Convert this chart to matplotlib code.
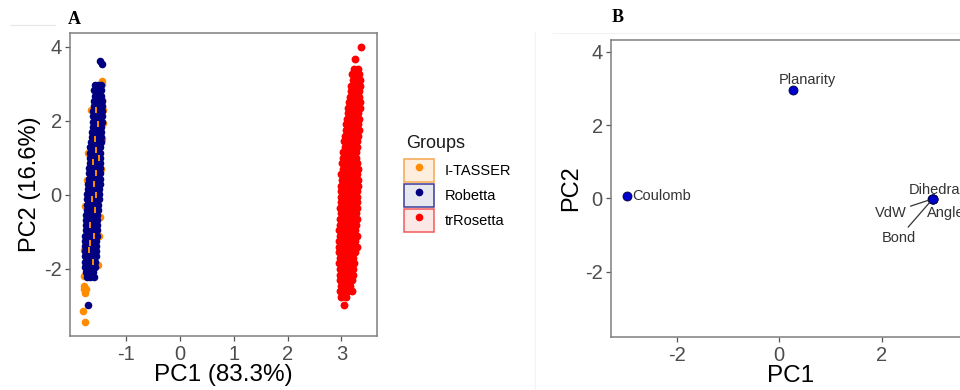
import matplotlib
matplotlib.use('Agg')
import matplotlib.pyplot as plt
from matplotlib.patches import Patch
from matplotlib.lines import Line2D
from matplotlib.legend_handler import HandlerTuple

plt.rcParams['font.family'] = ['Liberation Sans', 'DejaVu Sans']
plt.rcParams['axes.unicode_minus'] = False

# ---- panel A: PCA scores, one row = (PC2, [PC1 values])
itasser_rows = [
    (3.08, [-1.45]), (2.98, [-1.44]), (2.56, [-1.44]), (2.30, [-1.43, -1.65]),
    (1.95, [-1.43]), (1.50, [-1.45]), (1.13, [-1.71]), (0.70, [-1.46]),
    (0.40, [-1.73]), (-0.30, [-1.76]), (-0.60, [-1.49]), (-1.10, [-1.50]),
    (-1.50, [-1.78]), (-1.90, [-1.52]), (-2.20, [-1.78]), (-2.45, [-1.78]),
    (-2.55, [-1.78, -1.75]), (-2.66, [-1.77]), (-3.13, [-1.80]), (-3.42, [-1.76]),
]
# I-TASSER points that show through the Robetta cloud
itasser_mid_pc1 = [-1.55, -1.52, -1.58, -1.55, -1.62, -1.56, -1.60, -1.64,
                   -1.58, -1.66, -1.60, -1.68, -1.62, -1.55, -1.51, -1.66]
itasser_mid_pc2 = [2.30, 1.90, 1.50, 1.20, 0.90, 0.60, 0.30, -0.10,
                   -0.40, -0.80, -1.10, -1.50, -1.80, 0.00, 1.00, -1.30]

robetta_rows = [
    (3.62, [-1.49]), (3.53, [-1.45]),
    (2.96, [-1.58, -1.52, -1.47]), (2.82, [-1.59, -1.53, -1.46]),
    (2.68, [-1.58, -1.52, -1.46]), (2.54, [-1.60, -1.54, -1.48, -1.44]),
    (2.40, [-1.60, -1.54, -1.48, -1.44]), (2.26, [-1.61, -1.55, -1.49, -1.45]),
    (2.12, [-1.61, -1.55, -1.49, -1.44]), (1.98, [-1.61, -1.55, -1.50, -1.45]),
    (1.84, [-1.62, -1.56, -1.50, -1.46]), (1.70, [-1.63, -1.57, -1.51, -1.46]),
    (1.56, [-1.64, -1.58, -1.52, -1.47]), (1.42, [-1.65, -1.59, -1.53, -1.47]),
    (1.28, [-1.66, -1.60, -1.54, -1.48]), (1.14, [-1.66, -1.60, -1.54, -1.48]),
    (1.00, [-1.67, -1.61, -1.55, -1.48]), (0.86, [-1.67, -1.61, -1.55, -1.49]),
    (0.72, [-1.68, -1.62, -1.56, -1.49]), (0.58, [-1.69, -1.63, -1.56, -1.49]),
    (0.44, [-1.69, -1.63, -1.56, -1.49]), (0.30, [-1.70, -1.64, -1.57, -1.49]),
    (0.16, [-1.71, -1.65, -1.58, -1.50]), (0.02, [-1.72, -1.65, -1.58, -1.51]),
    (-0.12, [-1.73, -1.66, -1.59, -1.51]), (-0.26, [-1.73, -1.66, -1.59, -1.52]),
    (-0.40, [-1.73, -1.67, -1.60, -1.52]), (-0.54, [-1.74, -1.67, -1.60, -1.53]),
    (-0.68, [-1.74, -1.67, -1.61, -1.53]), (-0.82, [-1.75, -1.68, -1.61, -1.54]),
    (-0.96, [-1.75, -1.68, -1.61, -1.54]), (-1.10, [-1.76, -1.69, -1.62, -1.54]),
    (-1.24, [-1.76, -1.69, -1.62, -1.55]), (-1.38, [-1.76, -1.69, -1.62, -1.55]),
    (-1.52, [-1.76, -1.70, -1.63, -1.56]), (-1.66, [-1.76, -1.70, -1.63, -1.56]),
    (-1.80, [-1.76, -1.70, -1.63, -1.57]), (-1.94, [-1.76, -1.70, -1.63, -1.57]),
    (-2.08, [-1.75, -1.68, -1.61]), (-2.22, [-1.73, -1.66, -1.60]),
    (-2.97, [-1.70]),
]

trrosetta_rows = [
    (4.00, [3.36]), (3.66, [3.26]), (3.40, [3.24, 3.30]),
    (3.25, [3.20, 3.28, 3.33]), (3.10, [3.21, 3.29, 3.35]),
    (2.95, [3.18, 3.27, 3.34]), (2.80, [3.17, 3.25, 3.33]),
    (2.65, [3.15, 3.24, 3.33]), (2.50, [3.14, 3.23, 3.30, 3.35]),
    (2.35, [3.12, 3.21, 3.28, 3.34]), (2.20, [3.13, 3.22, 3.30]),
    (2.05, [3.10, 3.19, 3.26, 3.33]), (1.90, [3.09, 3.18, 3.25, 3.31]),
    (1.75, [3.08, 3.17, 3.24, 3.32]), (1.60, [3.07, 3.16, 3.23, 3.30]),
    (1.45, [3.05, 3.14, 3.21, 3.29]), (1.30, [3.06, 3.15, 3.22, 3.29]),
    (1.15, [3.03, 3.12, 3.20, 3.27]), (1.00, [3.03, 3.11, 3.19, 3.27]),
    (0.85, [3.01, 3.09, 3.17, 3.25, 3.29]), (0.70, [3.02, 3.10, 3.18, 3.26, 3.30]),
    (0.55, [3.00, 3.08, 3.16, 3.24, 3.29]), (0.40, [3.01, 3.09, 3.17, 3.25, 3.30]),
    (0.25, [3.00, 3.08, 3.16, 3.24, 3.30]), (0.10, [3.00, 3.08, 3.16, 3.24, 3.28]),
    (-0.05, [2.99, 3.07, 3.15, 3.23, 3.29]), (-0.20, [3.00, 3.08, 3.16, 3.24, 3.28]),
    (-0.35, [2.98, 3.06, 3.14, 3.22, 3.28]), (-0.50, [2.99, 3.07, 3.15, 3.23, 3.27]),
    (-0.65, [2.97, 3.05, 3.13, 3.21, 3.28]), (-0.80, [2.98, 3.06, 3.14, 3.22, 3.27]),
    (-0.95, [2.96, 3.04, 3.12, 3.20, 3.26]), (-1.10, [2.97, 3.05, 3.13, 3.21, 3.28]),
    (-1.25, [2.95, 3.03, 3.11, 3.19, 3.25]), (-1.40, [2.96, 3.04, 3.12, 3.20, 3.28]),
    (-1.55, [2.95, 3.03, 3.11, 3.19, 3.26]), (-1.70, [2.97, 3.05, 3.13, 3.21]),
    (-1.85, [2.96, 3.04, 3.12, 3.20, 3.24]), (-2.00, [2.98, 3.06, 3.14, 3.21]),
    (-2.15, [2.97, 3.05, 3.13, 3.22]), (-2.30, [2.98, 3.06, 3.14, 3.20]),
    (-2.45, [2.99, 3.07, 3.15]), (-2.60, [2.97, 3.05, 3.12, 3.19]),
    (-2.75, [3.00, 3.08]), (-2.97, [3.05]),
]

groups = ['I-TASSER', 'Robetta', 'trRosetta']
group_colors = ['#FF8C00', '#000080', '#FF0000']
key_fill = ['#FDEEDD', '#E7E7F0', '#FDE8E8']
key_edge = ['#F7A550', '#3C3C99', '#F25A5A']

# ---- panel B: variable loadings
var_names = ['Coulomb', 'Planarity', 'Dihedral', 'VdW', 'Angle', 'Bond']
var_pc1 = [-2.96, 0.26, 2.99, 2.98, 3.00, 2.99]
var_pc2 = [0.07, 2.97, -0.01, -0.02, -0.01, -0.02]


def unpack(rows):
    xs, ys = [], []
    for y, row in rows:
        for x in row:
            xs.append(x)
            ys.append(y)
    return xs, ys


tick_col = '#4D4D4D'
spine_col = '#7F7F7F'

fig = plt.figure(figsize=(9.6, 3.9), dpi=100)


def style(ax):
    for s in ax.spines.values():
        s.set_color(spine_col)
        s.set_linewidth(1.1)
    ax.tick_params(colors='#555555', labelcolor=tick_col, labelsize=14.5,
                   length=3.5, width=0.9, pad=2.5)
    ax.tick_params(axis='x', pad=3)


# panel A
axA = fig.add_axes([70 / 960, 1 - 336 / 390, 307 / 960, 303 / 390])
x, y = unpack(itasser_rows)
axA.scatter(x, y, s=30, color=group_colors[0], linewidths=0, zorder=2)
x, y = unpack(robetta_rows)
axA.scatter(x, y, s=30, color=group_colors[1], linewidths=0, zorder=3)
axA.scatter(itasser_mid_pc1, itasser_mid_pc2, s=14, marker='|',
            color=group_colors[0], linewidths=1.4, zorder=4)
x, y = unpack(trrosetta_rows)
axA.scatter(x, y, s=32, color=group_colors[2], linewidths=0, zorder=5)
axA.set_xlim(-2.04, 3.66)
axA.set_ylim(-3.81, 4.37)
axA.set_xticks([-1, 0, 1, 2, 3])
axA.set_yticks([-2, 0, 2, 4])
style(axA)
axA.set_xlabel('PC1 (83.3%)', fontsize=17.5, labelpad=0)
axA.set_ylabel('PC2 (16.6%)', fontsize=17, labelpad=2)

# legend (title drawn separately to control its gap)
handles = []
for c, f, e in zip(group_colors, key_fill, key_edge):
    handles.append((Patch(facecolor=f, edgecolor=e, linewidth=1.1),
                    Line2D([], [], marker='o', color=c, linestyle='none',
                           markersize=4.5)))
fig.legend(handles, groups, loc='upper left',
           bbox_to_anchor=(404 / 960, 1 - 159 / 390),
           handler_map={tuple: HandlerTuple(ndivide=1, pad=0)},
           frameon=False, fontsize=10.5, handlelength=2.05, handleheight=2.05,
           labelspacing=0.12, handletextpad=0.75, borderpad=0,
           borderaxespad=0)
fig.text(406 / 960, 1 - 144 / 390, 'Groups', fontsize=13, color='#1A1A1A',
         ha='left', va='center')

# panel B
axB = fig.add_axes([611 / 960, 1 - 337 / 390, 360 / 960, 297 / 390])
axB.scatter(var_pc1, var_pc2, s=42, color='#0000CD', edgecolors='#000040',
            linewidths=0.6, zorder=3)
axB.set_xlim(-3.28, 3.74)
axB.set_ylim(-3.78, 4.32)
axB.set_xticks([-2, 0, 2])
axB.set_yticks([-2, 0, 2, 4])
style(axB)
axB.set_xlabel('PC1', fontsize=17.5, labelpad=0)
axB.set_ylabel('PC2', fontsize=17, labelpad=2)

lab = dict(fontsize=10.5, color='#333333', va='center')
axB.text(-2.87, 0.06, 'Coulomb', ha='left', **lab)
axB.text(0.55, 3.23, 'Planarity', ha='center', **lab)
axB.text(2.52, 0.23, 'Dihedral', ha='left', **lab)
axB.annotate('VdW', xy=(2.98, -0.02), xytext=(2.17, -0.39), ha='center',
             arrowprops=dict(arrowstyle='-', color='#333333', lw=0.9,
                             shrinkA=1, shrinkB=3), **lab)
axB.text(2.89, -0.39, 'Angle', ha='left', **lab)
axB.annotate('Bond', xy=(2.99, -0.02), xytext=(2.33, -1.08), ha='center',
             arrowprops=dict(arrowstyle='-', color='#333333', lw=0.9,
                             shrinkA=1, shrinkB=3), **lab)

# panel tags and faint frame remnants
fig.text(68 / 960, 1 - 20 / 390, 'A', family='Liberation Serif',
         fontweight='bold', fontsize=13, va='center', ha='left')
fig.text(612 / 960, 1 - 18 / 390, 'B', family='Liberation Serif',
         fontweight='bold', fontsize=13, va='center', ha='left')
fig.add_artist(Line2D([10 / 960, 55 / 960], [1 - 25 / 390, 1 - 25 / 390],
                      color='#E6E6E6', lw=0.8))
fig.add_artist(Line2D([535 / 960, 535 / 960], [1 - 32 / 390, 0],
                      color='#F3F3F3', lw=0.8))
fig.add_artist(Line2D([553 / 960, 1], [1 - 33 / 390, 1 - 33 / 390],
                      color='#F3F3F3', lw=0.8))

fig.savefig('out.png', dpi=100)
